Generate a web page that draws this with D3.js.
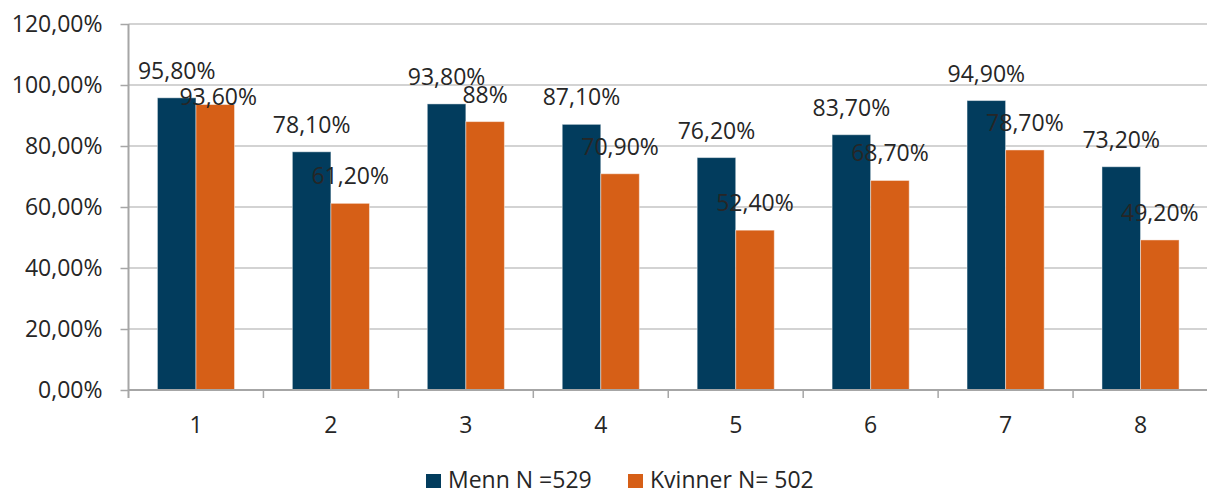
<!DOCTYPE html>
<html>
<head>
<meta charset="utf-8">
<script src="https://cdn.jsdelivr.net/npm/d3@7"></script>
<style>
  html, body { margin: 0; padding: 0; background: #fff; }
  svg { display: block; font-family: "Open Sans", sans-serif; }
</style>
</head>
<body>
<svg id="chart" width="1207" height="491"></svg>
<script>
// Categories and series
const categories = ["1", "2", "3", "4", "5", "6", "7", "8"];
const seriesNames = ["Menn N =529", "Kvinner N= 502"];
const mennValues = [95.8, 78.1, 93.8, 87.1, 76.2, 83.7, 94.9, 73.2];
const kvinnerValues = [93.6, 61.2, 88, 70.9, 52.4, 68.7, 78.7, 49.2];
const yTicks = [0, 20, 40, 60, 80, 100, 120];

const colors = ["#023c5d", "#d65f17"];
const textColor = "#262626";

const svg = d3.select("#chart");
const margin = { left: 128.5, right: 1208, top: 24, bottom: 390 };

const x = d3.scaleBand().domain(categories).range([margin.left, margin.right]).paddingInner(0).paddingOuter(0);
const xInner = d3.scaleBand().domain(seriesNames).range([0, x.bandwidth()]).paddingInner(0).paddingOuter(0.75);
const y = d3.scaleLinear().domain([0, 120]).range([margin.bottom, margin.top]);

// Norwegian number formatting: comma decimals
const locale = d3.formatLocale({ decimal: ",", thousands: " ", grouping: [3], currency: ["", " kr"] });
const f2 = locale.format(".2f");
const pct2 = v => f2(v) + "%";
const pctLabel = v => (Number.isInteger(v) ? String(v) : f2(v)) + "%";

// Gridlines
svg.append("g")
  .selectAll("line")
  .data(yTicks.filter(t => t > 0))
  .join("line")
  .attr("x1", margin.left)
  .attr("x2", 1207)
  .attr("y1", d => y(d))
  .attr("y2", d => y(d))
  .attr("stroke", "#c4c4c4")
  .attr("stroke-width", 1.5);

// Y axis
const yAxis = svg.append("g")
  .attr("transform", `translate(${margin.left},0)`)
  .call(d3.axisLeft(y).tickValues(yTicks).tickSize(8).tickPadding(18).tickFormat(pct2));
yAxis.select(".domain").remove();
yAxis.selectAll(".tick line").attr("stroke", "#a6a6a6").attr("stroke-width", 1.5);
yAxis.selectAll(".tick text")
  .attr("fill", textColor)
  .style("font-size", "23px")
  .style("font-family", "'Open Sans', sans-serif");

// Bars
const series = [
  { name: seriesNames[0], values: mennValues, color: colors[0] },
  { name: seriesNames[1], values: kvinnerValues, color: colors[1] }
];

const groups = svg.append("g")
  .selectAll("g")
  .data(series)
  .join("g")
  .attr("fill", d => d.color);

groups.selectAll("rect")
  .data(s => s.values.map((v, i) => ({ v, cat: categories[i], name: s.name })))
  .join("rect")
  .attr("x", d => x(d.cat) + xInner(d.name))
  .attr("width", xInner.bandwidth())
  .attr("y", d => y(d.v))
  .attr("height", d => y(0) - y(d.v))
  .attr("stroke", "rgba(255,255,255,0.45)")
  .attr("stroke-width", 1);

// X axis with ticks at category boundaries
const axisColor = "#a6a6a6";
svg.append("line")
  .attr("x1", margin.left).attr("x2", 1207)
  .attr("y1", y(0)).attr("y2", y(0))
  .attr("stroke", axisColor).attr("stroke-width", 2);
svg.append("line")
  .attr("x1", margin.left).attr("x2", margin.left)
  .attr("y1", y(120)).attr("y2", y(0) + 8)
  .attr("stroke", axisColor).attr("stroke-width", 2);
svg.append("g")
  .selectAll("line")
  .data(categories.slice(1))
  .join("line")
  .attr("x1", d => x(d)).attr("x2", d => x(d))
  .attr("y1", y(0)).attr("y2", y(0) + 8)
  .attr("stroke", axisColor).attr("stroke-width", 1.5);

svg.append("g")
  .selectAll("text")
  .data(categories)
  .join("text")
  .attr("x", d => x(d) + x.bandwidth() / 2)
  .attr("y", 433)
  .attr("text-anchor", "middle")
  .attr("fill", textColor)
  .style("font-size", "23px")
  .text(d => d);

// Data labels above bars; the first Kvinner label is shifted down onto its bar
const labelNudge = { "Kvinner N= 502|1": [3, 19] };
svg.append("g")
  .selectAll("g")
  .data(series)
  .join("g")
  .selectAll("text")
  .data(s => s.values.map((v, i) => ({ v, cat: categories[i], name: s.name })))
  .join("text")
  .attr("x", d => x(d.cat) + xInner(d.name) + xInner.bandwidth() / 2 + ((labelNudge[d.name + "|" + d.cat] || [0, 0])[0]))
  .attr("y", d => y(d.v) - 19 + ((labelNudge[d.name + "|" + d.cat] || [0, 0])[1]))
  .attr("text-anchor", "middle")
  .attr("fill", textColor)
  .style("font-size", "23px")
  .text(d => pctLabel(d.v));

// Legend
const legendItems = [
  { name: seriesNames[0], color: colors[0], x: 426 },
  { name: seriesNames[1], color: colors[1], x: 628 }
];
const legend = svg.append("g")
  .selectAll("g")
  .data(legendItems)
  .join("g")
  .attr("transform", d => `translate(${d.x},474)`);
legend.append("rect")
  .attr("width", 15).attr("height", 14)
  .attr("fill", d => d.color);
legend.append("text")
  .attr("x", 22)
  .attr("y", 14)
  .attr("fill", textColor)
  .style("font-size", "23px")
  .text(d => d.name);
</script>
</body>
</html>
